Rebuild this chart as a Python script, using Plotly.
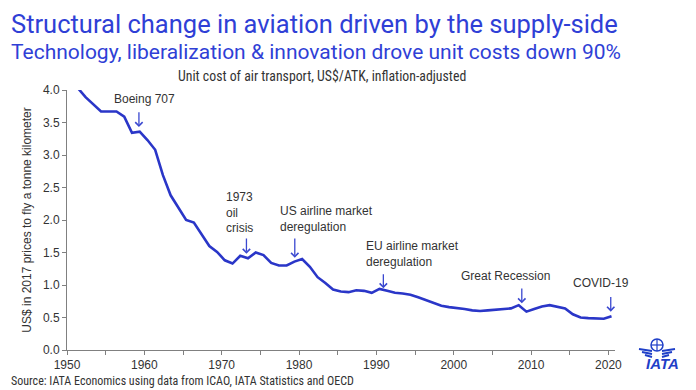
import plotly.graph_objects as go

# ---- data ----
years = list(range(1950, 2021))
unit_cost = [
    4.20, 4.03, 3.89, 3.78, 3.67, 3.67, 3.67, 3.59, 3.34, 3.36,
    3.23, 3.08, 2.69, 2.38, 2.18, 2.00, 1.96, 1.77, 1.60, 1.51,
    1.38, 1.33, 1.45, 1.41, 1.50, 1.46, 1.34, 1.30, 1.30, 1.36,
    1.40, 1.28, 1.12, 1.03, 0.93, 0.90, 0.89, 0.92, 0.91, 0.88,
    0.94, 0.91, 0.88, 0.87, 0.85, 0.81, 0.77, 0.72, 0.68, 0.66,
    0.65, 0.63, 0.61, 0.60, 0.61, 0.62, 0.63, 0.64, 0.69, 0.59,
    0.63, 0.67, 0.69, 0.66, 0.64, 0.55, 0.50, 0.49, 0.49, 0.48,
    0.52,
]
MID_YEAR = 0.4  # values are plotted slightly after the year tick

event_labels = ["Boeing 707", "1973<br>oil<br>crisis", "US airline market<br>deregulation",
                "EU airline market<br>deregulation", "Great Recession", "COVID-19"]
event_years = [1959.3, 1973.2, 1979.45, 1990.9, 2008.8, 2020.3]
event_tip = [3.43, 1.48, 1.42, 0.95, 0.72, 0.59]
event_tail = [3.68, 1.74, 1.74, 1.19, 0.97, 0.84]
label_x = [1960.05, 1970.27, 1977.22, 1988.38, 2000.67, 2015.2]
label_y = [3.86, 2.12, 2.02, 1.48, 1.14, 1.03]
label_anchor = ["center", "left", "left", "left", "left", "left"]

x_ticks = list(range(1950, 2021, 10))
y_ticks = [0.0, 0.5, 1.0, 1.5, 2.0, 2.5, 3.0, 3.5, 4.0]

BLUE = "#2f3fd6"
LINE = "#2a36c8"
TXT = "#333333"

PAGE_OFF = 8                      # browser body margin
FW, FH = 696 - PAGE_OFF, 390 - PAGE_OFF
L, T, W, H = 67, 90, 548, 260     # plot area in page pixels
def px(x): return (x - L) / W
def py(y): return (T + H - y) / H

fig = go.Figure()
fig.add_trace(go.Scatter(
    x=[y + MID_YEAR for y in years], y=unit_cost, mode="lines",
    line=dict(color=LINE, width=2.6), hoverinfo="skip", showlegend=False))

ann = []
for lab, ex, tip, tail, lx, ly, an in zip(event_labels, event_years, event_tip, event_tail,
                                          label_x, label_y, label_anchor):
    ann.append(dict(x=ex, y=tip, ax=ex, ay=tail, xref="x", yref="y", axref="x", ayref="y",
                    text="", showarrow=True, arrowhead=4, arrowsize=1.1, arrowwidth=1.3,
                    arrowcolor="#3a48d0"))
    ann.append(dict(x=lx, y=ly, xref="x", yref="y", text=lab, showarrow=False,
                    xanchor=an, yanchor="middle", align="left" if an == "left" else "center",
                    font=dict(family="Liberation Sans, Arial", size=12, color=TXT)))

ann += [
    dict(x=px(10), y=py(23.5), xref="paper", yref="paper", xanchor="left", yanchor="middle", align="left",
         text="Structural change in aviation driven by the supply-side", showarrow=False, borderpad=0,
         font=dict(family="Roboto", size=25.5, color=BLUE)),
    dict(x=px(10), y=py(52), xref="paper", yref="paper", xanchor="left", yanchor="middle", align="left",
         text="Technology, liberalization & innovation drove unit costs down 90%", showarrow=False,
         borderpad=0, font=dict(family="Roboto", size=21, color=BLUE)),
    dict(x=px(322), y=py(76), xref="paper", yref="paper", xanchor="center", yanchor="middle",
         text="Unit cost of air transport, US$/ATK, inflation-adjusted", showarrow=False, borderpad=0,
         font=dict(family="Liberation Sans Narrow, Roboto Condensed, Arial", size=13.8, color=TXT)),
    dict(x=px(9), y=py(381), xref="paper", yref="paper", xanchor="left", yanchor="middle", align="left",
         text="Source: IATA Economics using data from ICAO, IATA Statistics and OECD", showarrow=False,
         font=dict(family="Liberation Sans Narrow, Roboto Condensed, Arial", size=12, color=TXT)),
    dict(x=px(662), y=py(363), xref="paper", yref="paper", xanchor="center", yanchor="middle",
         text="<b><i>IATA</i></b>", showarrow=False,
         font=dict(family="Liberation Sans, Arial", size=15, color="#1f3fc8")),
]

shapes = [
    dict(type="circle", xref="paper", yref="paper", x0=px(651), x1=px(663), y0=py(339), y1=py(351),
         line=dict(color="#1f3fc8", width=1.5), fillcolor="rgba(0,0,0,0)"),
    dict(type="line", xref="paper", yref="paper", x0=px(657), x1=px(657), y0=py(339), y1=py(351),
         line=dict(color="#1f3fc8", width=1.2)),
    dict(type="line", xref="paper", yref="paper", x0=px(651), x1=px(663), y0=py(345), y1=py(345),
         line=dict(color="#1f3fc8", width=1.2)),
]
for dy in (0, 3, 6):
    shapes.append(dict(type="line", xref="paper", yref="paper", x0=px(639 + dy), x1=px(652),
                       y0=py(349 + dy), y1=py(351 + dy), line=dict(color="#1f3fc8", width=2)))
    shapes.append(dict(type="line", xref="paper", yref="paper", x0=px(662), x1=px(675 - dy),
                       y0=py(351 + dy), y1=py(349 + dy), line=dict(color="#1f3fc8", width=2)))

fig.update_layout(
    width=FW, height=FH, autosize=False,
    margin=dict(l=L - PAGE_OFF, r=FW - (L - PAGE_OFF) - W, t=T - PAGE_OFF,
                b=FH - (T - PAGE_OFF) - H, pad=0),
    paper_bgcolor="white", plot_bgcolor="white",
    annotations=ann, shapes=shapes,
    font=dict(family="Liberation Sans, Arial", size=12, color=TXT),
    xaxis=dict(range=[1950, 2020.85], tickvals=x_ticks, ticktext=[str(v) for v in x_ticks],
               showgrid=False, zeroline=False, showline=True, linecolor="#808080", linewidth=1,
               ticks="outside", ticklen=4, tickcolor="#808080",
               minor=dict(dtick=5, tick0=1950, ticks="outside", ticklen=4, tickcolor="#808080"),
               tickfont=dict(size=12, color=TXT), fixedrange=True),
    yaxis=dict(range=[0, 4], tickvals=y_ticks, ticktext=[f"{v:.1f}" for v in y_ticks],
               showgrid=False, zeroline=False, showline=True, linecolor="#808080", linewidth=1,
               ticks="outside", ticklen=4, tickcolor="#808080",
               tickfont=dict(size=12, color=TXT),
               title=dict(text="US$ in 2017 prices to fly a tonne kilometer", standoff=8,
                          font=dict(size=12, color=TXT)), fixedrange=True),
)

fig.write_html("out.html")
